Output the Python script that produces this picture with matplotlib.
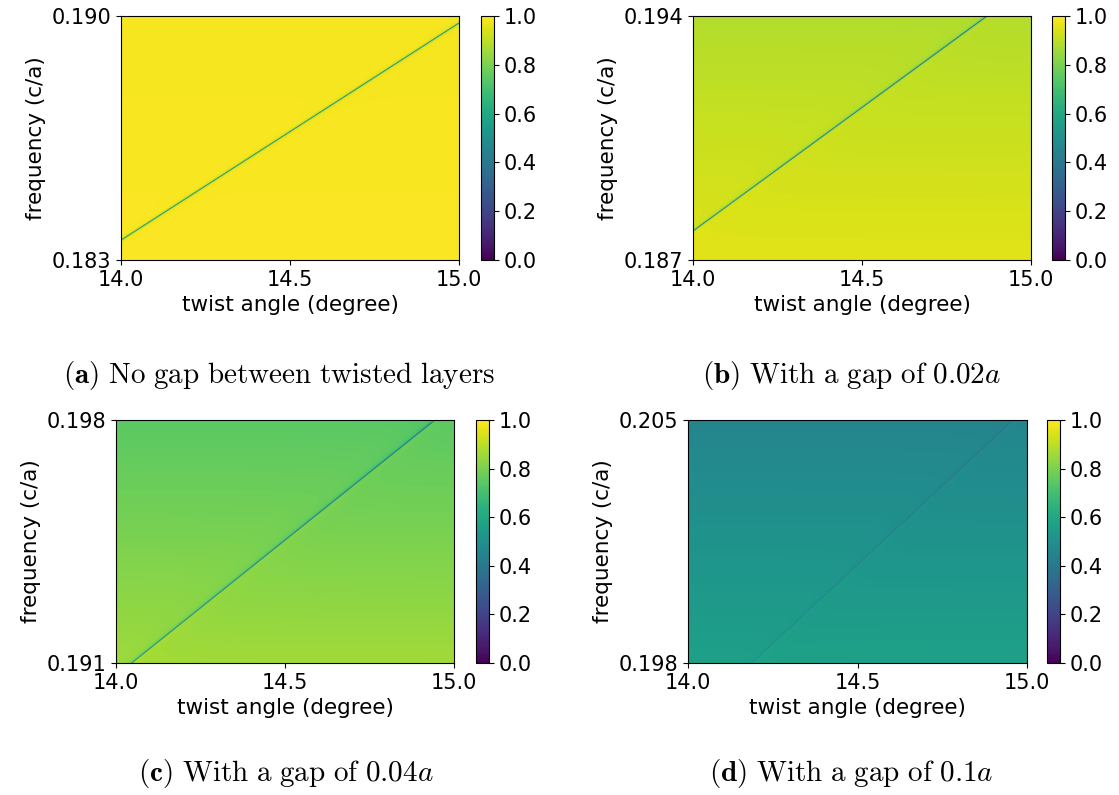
import numpy as np
import matplotlib
matplotlib.use('Agg')
import matplotlib.pyplot as plt

plt.rcParams['mathtext.fontset'] = 'cm'

# axis ranges per panel
angle_lo = [14.0, 14.0, 14.0, 14.0]
angle_hi = [15.0, 15.0, 15.0, 15.0]
freq_lo = [0.183, 0.187, 0.191, 0.198]
freq_hi = [0.190, 0.194, 0.198, 0.205]

# resonance line end points (angle, frequency)
line_start = [(14.0, 0.18357), (14.0, 0.18783), (14.047, 0.191), (14.19, 0.198)]
line_end = [(15.0, 0.18980), (14.87, 0.194), (14.944, 0.198), (14.96, 0.205)]

# background transmission at top / bottom of each map
bg_top = [0.985, 0.885, 0.745, 0.455]
bg_bottom = [0.995, 0.955, 0.86, 0.57]
line_depth = [0.75, 0.75, 0.55, 0.14]
line_bump = [0.0, 0.12, 0.2, 0.12]
line_width = [0.000010, 0.000010, 0.000010, 0.000007]

captions = [r'$\mathbf{(a)}\ \mathrm{No\ gap\ between\ twisted\ layers}$',
            r'$\mathbf{(b)}\ \mathrm{With\ a\ gap\ of\ 0.02}a$',
            r'$\mathbf{(c)}\ \mathrm{With\ a\ gap\ of\ 0.04}a$',
            r'$\mathbf{(d)}\ \mathrm{With\ a\ gap\ of\ 0.1}a$']

# layout in pixels (left, right, top, bottom) for axes, colorbar x-range, caption center
W, H = 1119, 795
ax_px = [(121, 459, 16, 260), (693, 1031, 16, 260), (116, 454, 420, 663), (688, 1027, 420, 663)]
cb_px = [(481, 494), (1052, 1065), (476, 489), (1047, 1060)]
cap_px = [(279, 375), (851, 375), (286, 773), (851, 773)]

fig = plt.figure(figsize=(W / 100, H / 100), dpi=100)

for i in range(4):
    l, r, t, b = ax_px[i]
    ax = fig.add_axes([l / W, 1 - b / H, (r - l) / W, (b - t) / H])
    nx, ny = 1000, 1000
    xs = np.linspace(angle_lo[i], angle_hi[i], nx)
    ys = np.linspace(freq_lo[i], freq_hi[i], ny)
    X, Y = np.meshgrid(xs, ys)
    frac = (Y - freq_lo[i]) / (freq_hi[i] - freq_lo[i])
    bg = bg_bottom[i] + (bg_top[i] - bg_bottom[i]) * frac
    (x0, y0), (x1, y1) = line_start[i], line_end[i]
    slope = (y1 - y0) / (x1 - x0)
    d = Y - (y0 + slope * (X - x0))
    e = d / line_width[i]
    lor = 1 / (1 + e ** 2)
    Z = bg - line_depth[i] * lor - line_bump[i] * e * lor
    Z = np.clip(Z, 0, 1)
    im = ax.imshow(Z, origin='lower', aspect='auto', cmap='viridis', vmin=0, vmax=1,
                   extent=[angle_lo[i], angle_hi[i], freq_lo[i], freq_hi[i]],
                   interpolation='antialiased')
    ax.set_xticks([14.0, 14.5, 15.0])
    ax.set_xticklabels(['14.0', '14.5', '15.0'])
    ax.set_yticks([freq_lo[i], freq_hi[i]])
    ax.set_yticklabels(['%.3f' % freq_lo[i], '%.3f' % freq_hi[i]])
    ax.tick_params(labelsize=15)
    ax.set_xlabel('twist angle (degree)', fontsize=15.5)
    ax.set_ylabel('frequency (c/a)', fontsize=15.5)
    cl, cr = cb_px[i]
    cax = fig.add_axes([cl / W, 1 - b / H, (cr - cl) / W, (b - t) / H])
    cb = fig.colorbar(im, cax=cax)
    cb.set_ticks([0.0, 0.2, 0.4, 0.6, 0.8, 1.0])
    cb.ax.tick_params(labelsize=15)
    cx, cy = cap_px[i]
    fig.text(cx / W, 1 - cy / H, captions[i], ha='center', va='center', fontsize=21)

fig.savefig('out.png', dpi=100)
